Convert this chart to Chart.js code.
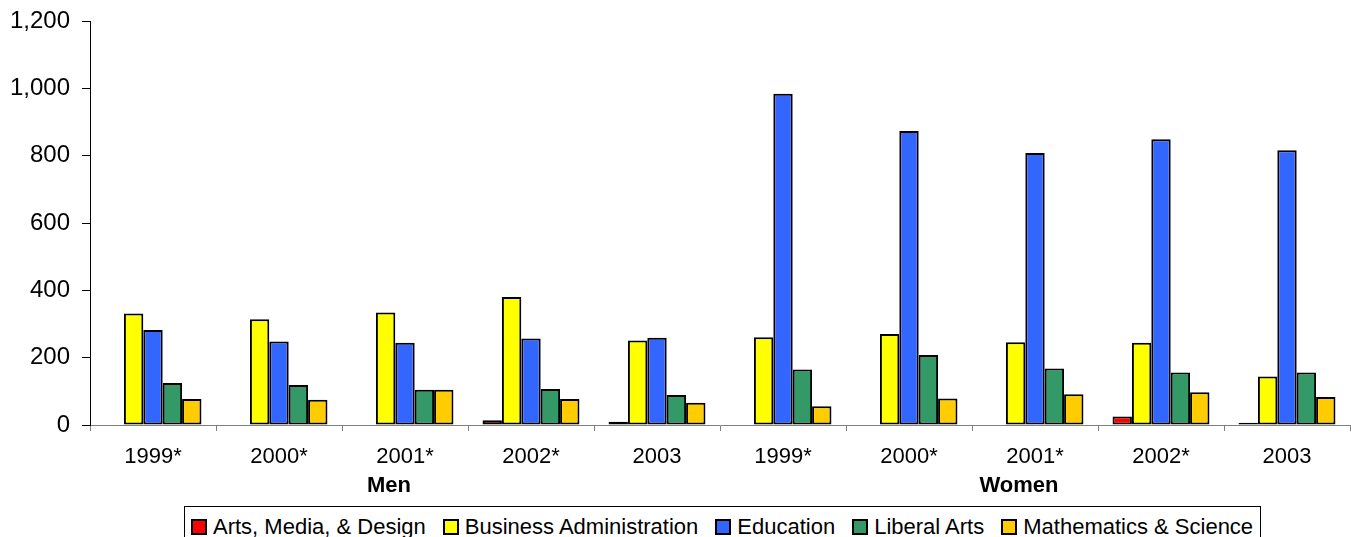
<!DOCTYPE html>
<html>
<head>
<meta charset="utf-8">
<script src="https://cdn.jsdelivr.net/npm/chart.js@4.4.1/dist/chart.umd.min.js"></script>
<style>
  html, body { margin: 0; padding: 0; background: #fff; }
  #wrap { position: relative; width: 1351px; height: 537px; overflow: hidden; }
  #legend {
    position: absolute; left: 184px; top: 506px; height: 40px;
    border: 1px solid #000; background: #fff;
    display: flex; align-items: flex-start; padding: 9px 7px 0 6px;
    font: 22px "Liberation Sans", Arial, sans-serif; color: #000; white-space: nowrap;
    box-sizing: border-box;
  }
  #legend .item { display: flex; align-items: center; margin-right: 17px; line-height: 22px; }
  #legend .item:last-child { margin-right: 0; }
  #legend .box { width: 12px; height: 12px; border: 2px solid #000; margin-right: 6px; }
</style>
</head>
<body>
<div id="wrap">
  <canvas id="chart" width="1351" height="537"></canvas>
  <div id="legend"></div>
</div>
<script>
// ── Data ──────────────────────────────────────────────────────────────────────
const years = ["1999*", "2000*", "2001*", "2002*", "2003", "1999*", "2000*", "2001*", "2002*", "2003"];
const groups = ["Men", "Women"];
const groupSize = 5;

const seriesNames = ["Arts, Media, & Design", "Business Administration", "Education", "Liberal Arts", "Mathematics & Science"];
const seriesColors = ["#FF0000", "#FFFF00", "#3366FF", "#339966", "#FFCC00"];

const arts      = [0, 0, 0, 14, 10,    0, 0, 0, 25, 7];
const business  = [331, 314, 334, 380, 251,   261, 270, 246, 244, 144];
const education = [282, 248, 244, 257, 259,   984, 873, 808, 849, 816];
const liberal   = [125, 119, 105, 107, 89,    165, 208, 168, 156, 156];
const math      = [77, 75, 105, 77, 66,       56, 79, 91, 97, 83];

const yTicks = [0, 200, 400, 600, 800, 1000, 1200];

const FONT = '"Liberation Sans", Arial, sans-serif';

// ── Group labels under the year ticks ─────────────────────────────────────────
const groupLabels = {
  id: "groupLabels",
  afterDraw(chart) {
    const x = chart.scales.x;
    const ctx = chart.ctx;
    ctx.save();
    ctx.font = `bold 22px ${FONT}`;
    ctx.fillStyle = "#000";
    ctx.textAlign = "center";
    ctx.textBaseline = "alphabetic";
    groups.forEach((g, i) => {
      const a = x.getPixelForValue(i * groupSize);
      const b = x.getPixelForValue(i * groupSize + groupSize - 1);
      ctx.fillText(g, (a + b) / 2 - 16, x.top + 67);
    });
    ctx.restore();
  }
};

// ── Chart ─────────────────────────────────────────────────────────────────────
const allSeries = [arts, business, education, liberal, math];

new Chart(document.getElementById("chart"), {
  type: "bar",
  data: {
    labels: years,
    datasets: allSeries.map((d, i) => ({
      label: seriesNames[i],
      data: d,
      backgroundColor: seriesColors[i],
      borderColor: "#000",
      borderWidth: 2,
      borderSkipped: false,
      categoryPercentage: 5 / 6.5,
      barPercentage: 1,
    })),
  },
  options: {
    responsive: false,
    animation: false,
    layout: { padding: { top: 21, right: 1, left: 0, bottom: 0 } },
    plugins: { legend: { display: false }, tooltip: { enabled: false } },
    scales: {
      x: {
        grid: { drawOnChartArea: false, color: "#808080", tickLength: 6, offset: true },
        border: { color: "#808080", width: 1 },
        ticks: { color: "#000", font: { family: FONT, size: 22 }, padding: 13, maxRotation: 0, autoSkip: false },
        afterFit(s) { s.height = 112; s.paddingLeft = 0; s.paddingRight = 0; },
      },
      y: {
        min: yTicks[0],
        max: yTicks[yTicks.length - 1],
        grid: { drawOnChartArea: false, color: "#000", tickLength: 8 },
        border: { color: "#000", width: 1 },
        ticks: {
          stepSize: 200,
          color: "#000",
          padding: 12,
          font: { family: FONT, size: 24 },
          callback: v => v.toLocaleString("en-US"),
        },
        afterFit(s) { s.width = 90; s.paddingTop = 0; s.paddingBottom = 0; },
      },
    },
  },
  plugins: [groupLabels],
});

// ── Legend ────────────────────────────────────────────────────────────────────
document.getElementById("legend").innerHTML = seriesNames.map((n, i) =>
  `<div class="item"><span class="box" style="background:${seriesColors[i]}"></span>${n}</div>`
).join("");
</script>
</body>
</html>
